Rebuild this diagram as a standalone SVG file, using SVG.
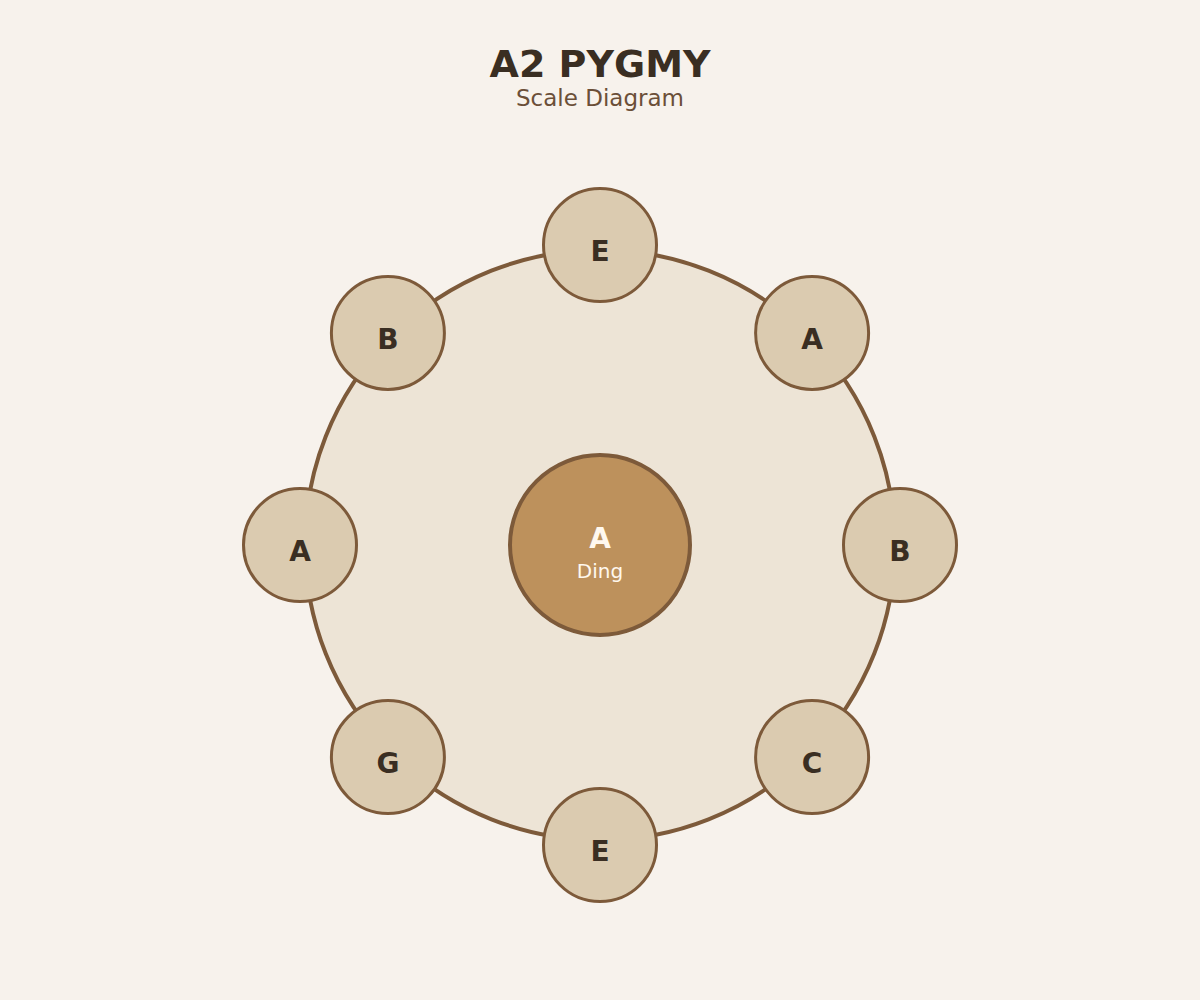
<svg xmlns="http://www.w3.org/2000/svg" width="1200" height="1000" viewBox="0 0 1200 1000">
<style>
.note circle{fill:#dbcbb0;stroke:#7d5a3a;stroke-width:3}
.note text{font-family:"DejaVu Sans",sans-serif;font-weight:bold;font-size:28px;fill:#3a2e22;text-anchor:middle}
</style>
<rect width="1200" height="1000" fill="#f7f2ec"/>
<text x="600" y="77" font-family="DejaVu Sans, sans-serif" font-weight="bold" font-size="38" fill="#3a2e22" text-anchor="middle">A2 PYGMY</text>
<text x="600" y="106" font-family="DejaVu Sans, sans-serif" font-size="23" fill="#6b4f38" text-anchor="middle">Scale Diagram</text>
<g id="body">
<circle cx="600" cy="545" r="295" fill="#ede4d6" stroke="#7d5a3a" stroke-width="4"/>
</g>
<g id="connectors"></g>
<g id="ding">
<circle cx="600" cy="545" r="90" fill="#bd915c" stroke="#7d5a3a" stroke-width="4"/>
<text x="600" y="548" font-family="DejaVu Sans, sans-serif" font-weight="bold" font-size="28" fill="#fff8ee" text-anchor="middle">A</text>
<text x="600" y="578" font-family="DejaVu Sans, sans-serif" font-size="20" fill="#fff8ee" text-anchor="middle">Ding</text>
</g>
<g id="n1" class="note"><circle cx="600" cy="245" r="56.5"/><text x="600" y="261">E</text></g>
<g id="n2" class="note"><circle cx="812.1" cy="332.9" r="56.5"/><text x="812.1" y="349">A</text></g>
<g id="n3" class="note"><circle cx="900" cy="545" r="56.5"/><text x="900" y="561">B</text></g>
<g id="n4" class="note"><circle cx="812.1" cy="757.1" r="56.5"/><text x="812.1" y="773">C</text></g>
<g id="n5" class="note"><circle cx="600" cy="845" r="56.5"/><text x="600" y="861">E</text></g>
<g id="n6" class="note"><circle cx="387.9" cy="757.1" r="56.5"/><text x="387.9" y="773">G</text></g>
<g id="n7" class="note"><circle cx="300" cy="545" r="56.5"/><text x="300" y="561">A</text></g>
<g id="n8" class="note"><circle cx="387.9" cy="332.9" r="56.5"/><text x="387.9" y="349">B</text></g>
</svg>
